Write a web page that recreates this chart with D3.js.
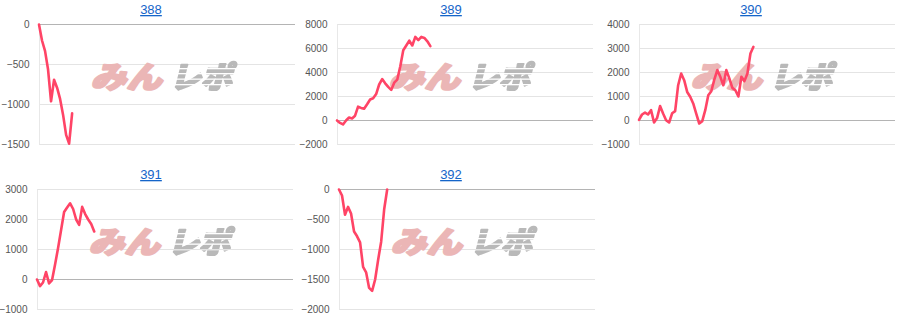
<!DOCTYPE html>
<html>
<head>
<meta charset="utf-8">
<script src="https://cdn.jsdelivr.net/npm/d3@7/dist/d3.min.js"></script>
<style>
  html, body { margin: 0; padding: 0; background: #fff; }
  svg { display: block; }
</style>
</head>
<body>
<svg id="chart" width="900" height="330"></svg>
<script>
// ---------- DATA ----------
const titles = ["388", "389", "390", "391", "392"];

const values388 = [0, -200, -330, -560, -960, -690, -790, -930, -1130, -1380, -1490, -1110];
const values389 = [0, -200, -330, 0, 250, 170, 400, 1150, 1050, 980, 1350, 1750, 1850, 2200, 3000, 3450,
                   3100, 2800, 2550, 3150, 3400, 4500, 5850, 6250, 6650, 6250, 6970, 6700, 6970, 6880, 6600, 6200];
const values390 = [30, 250, 330, 250, 430, -83, 100, 600, 290, 14, -83, 300, 390, 1470, 1960, 1680,
                   1190, 990, 710, 290, -125, -28, 430, 1055, 1220, 1700, 2100, 1820, 1470, 2100, 1750,
                   1360, 1260, 1000, 1820, 1640, 1960, 2790, 3070];
const values391 = [0, -220, -100, 250, -130, -20, 500, 1050, 1650, 2250, 2400, 2540, 2350, 2000, 1820,
                   2420, 2180, 2000, 1850, 1600];
const values392 = [0, -100, -420, -290, -400, -700, -780, -880, -1290, -1380, -1640, -1690, -1500, -1170,
                   -870, -330, 0];

const ticks388 = [-1500, -1000, -500, 0];
const ticks389 = [-2000, 0, 2000, 4000, 6000, 8000];
const ticks390 = [-1000, 0, 1000, 2000, 3000, 4000];
const ticks391 = [-1000, 0, 1000, 2000, 3000];
const ticks392 = [-2000, -1500, -1000, -500, 0];

const xCount = 85; // x axis spans this many steps

const panels = [
  { title: titles[0], values: values388, ticks: ticks388 },
  { title: titles[1], values: values389, ticks: ticks389 },
  { title: titles[2], values: values390, ticks: ticks390 },
  { title: titles[3], values: values391, ticks: ticks391 },
  { title: titles[4], values: values392, ticks: ticks392 }
];

// ---------- LAYOUT ----------
const plotLeftOffset = [39, 37, 39, 37, 39];
const plotWidth = 256;
const plotTopBase = 24.5, plotHeight = 120, rowStep = 165, colStep = 300;

const svg = d3.select("#chart");
const defs = svg.append("defs");

panels.forEach((p, i) => {
  const col = i % 3, row = Math.floor(i / 3);
  const px = col * colStep;
  const left = px + plotLeftOffset[i];
  const top = plotTopBase + row * rowStep;
  const bottom = top + plotHeight;

  const x = d3.scaleLinear().domain([0, xCount]).range([left, left + plotWidth]);
  const y = d3.scaleLinear().domain(d3.extent(p.ticks)).range([bottom, top]);

  const g = svg.append("g");

  // title (link style)
  g.append("text")
    .attr("x", px + 151).attr("y", top - 10.5)
    .attr("text-anchor", "middle")
    .attr("font-family", "'Liberation Sans', Arial, sans-serif")
    .attr("font-size", 13)
    .attr("fill", "#1565c9")
    .attr("text-decoration", "underline")
    .text(p.title);

  // gridlines
  g.append("g").selectAll("line").data(p.ticks).join("line")
    .attr("x1", left).attr("x2", left + plotWidth)
    .attr("y1", d => y(d)).attr("y2", d => y(d))
    .attr("stroke", d => d === 0 ? "#b4b4b4" : "#e4e4e4")
    .attr("stroke-width", 1);

  // left vertical axis line
  g.append("line")
    .attr("x1", left + 0.5).attr("x2", left + 0.5)
    .attr("y1", top).attr("y2", bottom)
    .attr("stroke", "#e8e8e8");

  // y tick labels
  const axis = d3.axisLeft(y).tickValues(p.ticks).tickSize(0).tickPadding(9.5).tickFormat(d3.format("d"));
  const ag = g.append("g").attr("transform", `translate(${left},0)`).call(axis);
  ag.select(".domain").remove();
  ag.selectAll("text")
    .attr("font-family", "'Liberation Sans', Arial, sans-serif")
    .attr("font-size", 10)
    .attr("fill", "#555");

  // watermark
  const cx = left + plotWidth / 2 - 1;
  const cy = top + plotHeight / 2 - 8.5;
  const maskId = "wm-mask-" + i;
  const m = defs.append("mask").attr("id", maskId).attr("maskUnits", "userSpaceOnUse")
    .attr("x", 0).attr("y", 0).attr("width", 900).attr("height", 330);
  m.append("rect").attr("x", 0).attr("y", 0).attr("width", 900).attr("height", 330).attr("fill", "#fff");
  [-8, -3, 2.5, 8].forEach(dy => {
    m.append("rect").attr("x", cx + 2).attr("y", cy + dy).attr("width", 80).attr("height", 1.3).attr("fill", "#000");
  });
  const wm = g.append("g").attr("transform", `translate(${cx},${cy}) skewX(-14)`);
  wm.append("text")
    .attr("x", -72).attr("y", 12)
    .attr("textLength", 71).attr("lengthAdjust", "spacingAndGlyphs")
    .attr("font-family", "'Noto Sans CJK JP', sans-serif")
    .attr("font-weight", 900)
    .attr("font-size", 30)
    .attr("fill", "#ebb6b6")
    .attr("stroke", "#ebb6b6")
    .attr("stroke-width", 2.2)
    .attr("stroke-linejoin", "round")
    .text("みん");
  const wg = g.append("g").attr("mask", `url(#${maskId})`);
  wg.append("g").attr("transform", `translate(${cx},${cy}) skewX(-14)`)
    .append("text")
    .attr("x", 7).attr("y", 12)
    .attr("textLength", 62).attr("lengthAdjust", "spacingAndGlyphs")
    .attr("font-family", "'Noto Sans CJK JP', sans-serif")
    .attr("font-weight", 900)
    .attr("font-size", 30)
    .attr("fill", "#b9b9b9")
    .attr("stroke", "#b9b9b9")
    .attr("stroke-width", 2.2)
    .attr("stroke-linejoin", "round")
    .text("レポ");

  // data line
  const line = d3.line().x((d, k) => x(k)).y(d => y(d));
  g.append("path")
    .datum(p.values)
    .attr("d", line)
    .attr("fill", "none")
    .attr("stroke", "#ff4466")
    .attr("stroke-width", 2.6)
    .attr("stroke-linejoin", "round")
    .attr("stroke-linecap", "round");
});
</script>
</body>
</html>
